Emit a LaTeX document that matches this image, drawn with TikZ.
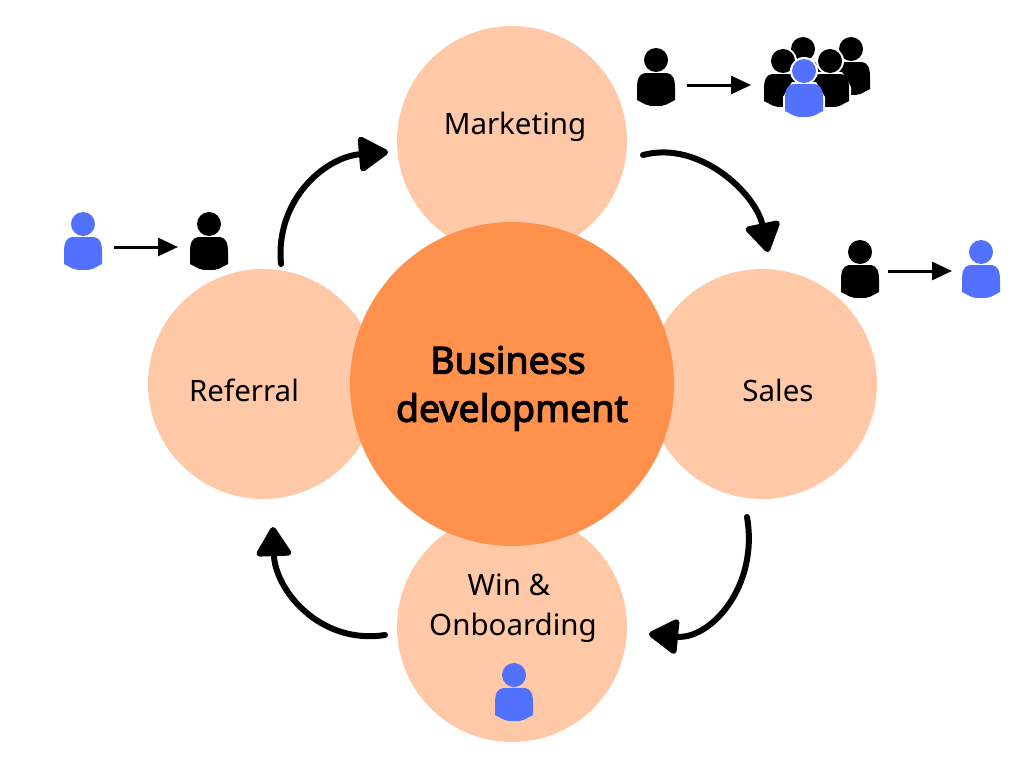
\documentclass[tikz,border=0pt]{standalone}
\usepackage{fontspec}
\setmainfont{Noto Sans}
\newfontfamily\hubfont[FakeBold=3]{Noto Sans}
\usetikzlibrary{arrows.meta}

\definecolor{petalcol}{HTML}{FFC9A8}
\definecolor{hubcol}{HTML}{FF914D}
\definecolor{personblue}{HTML}{5271FF}

\tikzset{
	petal/.style={circle, fill=petalcol, minimum size=230pt, inner sep=0pt},
	hub/.style={circle, fill=hubcol, minimum size=324pt, inner sep=0pt},
	petallabel/.style={font=\fontsize{29.5}{36}\selectfont, inner sep=0pt},
	hublabel/.style={font=\fontsize{37.5}{44}\selectfont\hubfont, inner sep=0pt},
	bigarrow/.style={line width=6pt, line cap=round, -{Triangle[length=32pt, width=38pt, round]}},
	smallarrow/.style={line width=3pt, -{Triangle[length=20pt, width=18pt]}},
	pics/person/.style={code={
		\fill (0, 0) circle (12);
		\fill (-11, 13) .. controls +(-6, 1) and +(0, -9) ..
			(-19, 28) -- (-19, 40) .. controls +(10, 5) and +(-10, 0) ..
			(0, 46) .. controls +(10, 0) and +(-10, 5) .. (19, 40)
			-- (19, 28) .. controls +(0, -9) and +(6, 1) .. (11, 13) -- cycle;
	}},
	pics/haloperson/.style={code={
		\fill[white] (0, 0) circle (14);
		\fill[white] (-12, 11) -- (12, 11) -- (21, 26) -- (21, 42) -- (0, 48) -- (-21, 42) -- (-21, 26) -- cycle;
		\pic {person};
	}}
}

\begin{document}
\begin{tikzpicture}[x=1pt, y=-1pt]
\useasboundingbox (0, 0) rectangle (1024, 768);

% circles
\node[petal] (marketing) at (512, 141) {};
\node[petal] (sales) at (762, 384) {};
\node[petal] (referral) at (263, 384) {};
\node[petal] (win) at (512, 627) {};
\node[hub] (business) at (512, 384) {};

% labels
\node[petallabel] (marketingtext) at (515, 127) {Marketing};
\node[petallabel] (salestext) at (778, 390) {Sales};
\node[petallabel] (referraltext) at (244, 390) {Referral};
\node[petallabel] (wintext) at (509, 585) {Win \&};
\node[petallabel] (onboardingtext) at (513, 628) {Onboarding};
\node[hublabel] (businesstext) at (508, 360) {Business};
\node[hublabel] (developmenttext) at (512, 412) {development};

% big arrows
\coordinate (mkt-out) at (643, 155);
\coordinate (sales-in) at (768, 252);
\coordinate (sales-out) at (747, 517);
\coordinate (win-in) at (649, 634);
\coordinate (win-out) at (385, 635);
\coordinate (ref-in) at (273, 527);
\coordinate (ref-out) at (281, 264);
\coordinate (mkt-in) at (388, 152);

\draw[bigarrow] (mkt-out) .. controls +(57, -15) and +(-12, -58) .. (sales-in);
\draw[bigarrow] (sales-out) .. controls +(12, 70) and +(61, 6) .. (win-in);
\draw[bigarrow] (win-out) .. controls +(-65, 10) and +(2, 63) .. (ref-in);
\draw[bigarrow] (ref-out) .. controls +(-6, -64) and +(-63, 5) .. (mkt-in);

% people
\pic[black] at (656, 60) {person};
\pic[black] at (803, 49) {person};
\pic[black] at (851, 49) {haloperson};
\pic[black] at (783, 61) {haloperson};
\pic[black] at (830, 61) {haloperson};
\pic[personblue] at (804, 71) {haloperson};
\pic[personblue] at (83, 224) {person};
\pic[black] at (209, 224) {person};
\pic[black] at (860, 252) {person};
\pic[personblue] at (981, 252) {person};
\pic[personblue] at (514, 675) {person};

% small arrows
\coordinate (mkt-from) at (687, 85);
\coordinate (mkt-to) at (751, 85);
\coordinate (ref-from) at (114, 247);
\coordinate (ref-to) at (178, 247);
\coordinate (sales-from) at (888, 271);
\coordinate (sales-to) at (952, 271);

\draw[smallarrow] (mkt-from) -- (mkt-to);
\draw[smallarrow] (ref-from) -- (ref-to);
\draw[smallarrow] (sales-from) -- (sales-to);

\end{tikzpicture}
\end{document}
